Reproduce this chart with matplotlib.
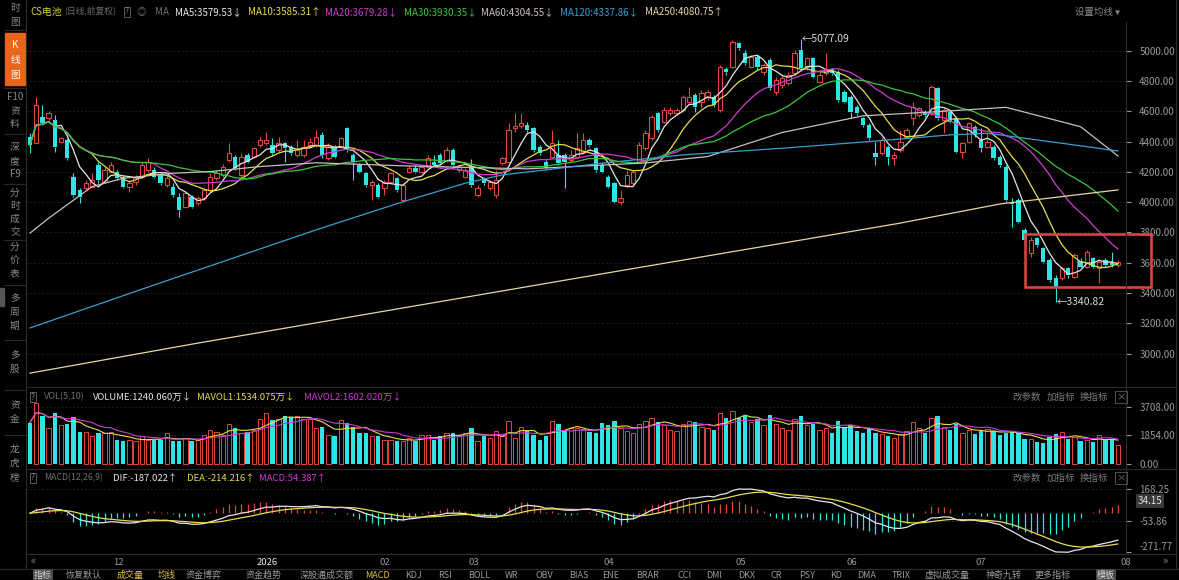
import matplotlib
matplotlib.use("Agg")
import matplotlib.pyplot as plt
from matplotlib.lines import Line2D
from matplotlib.patches import Rectangle
import numpy as np
import pandas as pd

plt.rcParams['font.family'] = ['Noto Sans CJK SC', 'DejaVu Sans']

W, H = 1179, 580

# daily candles (index points)
opens = [4433, 4393, 4565, 4554, 4543, 4400, 4411, 4169, 4081, 4092,
         4103, 4246, 4136, 4202, 4202, 4169, 4103, 4136, 4169, 4213,
         4213, 4180, 4114, 4103, 4037, 3971, 4037, 3993, 4026, 4081,
         4158, 4180, 4279, 4301, 4180, 4312, 4301, 4378, 4389, 4378,
         4345, 4389, 4367, 4312,
         4312, 4378, 4378, 4444, 4290, 4367, 4367, 4488, 4312, 4246,
         4191, 4114, 4114, 4092, 4136, 4158, 4015, 4202, 4224, 4202,
         4235, 4268, 4312, 4279, 4345, 4213, 4169, 4235, 4048, 4158,
         4092, 4048, 4257, 4268, 4488, 4503, 4510, 4488, 4367, 4268,
         4301, 4312, 4312, 4279, 4301, 4334, 4411, 4356,
         4246, 4169, 4125, 4004, 4114, 4125, 4268, 4356, 4422, 4587,
         4532, 4587, 4587, 4609, 4664, 4708, 4664, 4697, 4697, 4609,
         4877, 4895, 5049, 4983, 4895, 4961, 4862, 4939, 4730, 4774,
         4785, 4851, 5005, 4895, 4950, 4796, 4851, 4877, 4862, 4730,
         4697, 4631, 4554, 4510,
         4323, 4323, 4367, 4290, 4345, 4433, 4554, 4576, 4598, 4587,
         4752, 4543, 4598, 4554, 4334, 4400, 4499, 4411, 4367, 4367,
         4301, 4235, 3998, 4015, 3817, 3663, 3762, 3696, 3619, 3498,
         3498, 3564, 3509, 3614, 3575, 3630, 3564, 3619, 3608, 3586]
highs = [4455, 4697, 4642, 4604, 4576, 4433, 4422, 4191, 4092, 4147,
         4191, 4268, 4235, 4268, 4213, 4180, 4147, 4180, 4268, 4290,
         4235, 4202, 4180, 4125, 4059, 4070, 4048, 4041, 4092, 4191,
         4213, 4252, 4389, 4312, 4323, 4323, 4367, 4433, 4466, 4422,
         4433, 4400, 4378, 4411,
         4411, 4422, 4477, 4466, 4389, 4378, 4433, 4499, 4323, 4257,
         4202, 4147, 4125, 4147, 4202, 4169, 4125, 4246, 4246, 4246,
         4312, 4312, 4323, 4367, 4356, 4246, 4224, 4283, 4114, 4169,
         4147, 4213, 4301, 4521, 4587, 4587, 4532, 4499, 4378, 4279,
         4477, 4411, 4323, 4345, 4455, 4455, 4422, 4367,
         4268, 4180, 4136, 4081, 4213, 4213, 4400, 4477, 4576, 4598,
         4631, 4631, 4620, 4708, 4763, 4719, 4741, 4741, 4708, 4906,
         4895, 5071, 5060, 5005, 4972, 4972, 4917, 4950, 4829, 4840,
         4862, 5005, 5077.09, 4961, 4961, 4862, 4983, 4884, 4873, 4741,
         4708, 4642, 4565, 4521,
         4400, 4433, 4378, 4334, 4477, 4488, 4664, 4631, 4609, 4774,
         4763, 4620, 4609, 4565, 4400, 4532, 4510, 4488, 4455, 4378,
         4312, 4246, 4026, 4026, 3828, 3773, 3773, 3707, 3630, 3520,
         3575, 3575, 3663, 3630, 3685, 3641, 3619, 3630, 3674, 3619]
lows = [4323, 4389, 4510, 4543, 4334, 4389, 4279, 4037, 3993, 4081,
        4092, 4125, 4125, 4191, 4147, 4092, 4070, 4114, 4158, 4202,
        4158, 4114, 4103, 4037, 3905, 3960, 3960, 3982, 4015, 4070,
        4147, 4169, 4268, 4213, 4164, 4257, 4290, 4367, 4378, 4312,
        4334, 4268, 4312, 4301,
        4301, 4367, 4367, 4290, 4279, 4290, 4356, 4334, 4147, 4191,
        4103, 4015, 4026, 4048, 4125, 4070, 4004, 4191, 4191, 4191,
        4224, 4235, 4246, 4268, 4235, 4202, 4158, 4103, 4037, 4114,
        4081, 4026, 4246, 4257, 4466, 4488, 4466, 4334, 4312, 4213,
        4290, 4246, 4092, 4268, 4290, 4323, 4367, 4202,
        4191, 4092, 3993, 3982, 4103, 4114, 4257, 4345, 4411, 4466,
        4521, 4576, 4576, 4598, 4653, 4598, 4620, 4675, 4631, 4598,
        4840, 4884, 5005, 4906, 4884, 4873, 4840, 4741, 4708, 4752,
        4774, 4840, 4873, 4873, 4818, 4785, 4840, 4840, 4664, 4653,
        4554, 4576, 4499, 4411,
        4246, 4312, 4246, 4246, 4334, 4422, 4510, 4565, 4565, 4576,
        4543, 4455, 4521, 4323, 4290, 4389, 4433, 4334, 4356, 4279,
        4235, 4004, 3839, 3861, 3696, 3641, 3707, 3597, 3476, 3340.82,
        3487, 3498, 3498, 3564, 3564, 3564, 3464, 3575, 3575, 3570]
closes = [4378, 4642, 4521, 4587, 4367, 4422, 4290, 4048, 4037, 4125,
          4147, 4147, 4213, 4246, 4158, 4103, 4125, 4169, 4246, 4268,
          4169, 4125, 4158, 4048, 3949, 4059, 3971, 4026, 4081, 4169,
          4191, 4235, 4323, 4224, 4301, 4268, 4356, 4411, 4411, 4323,
          4389, 4356, 4323, 4345,
          4367, 4400, 4433, 4312, 4367, 4301, 4422, 4345, 4268, 4202,
          4114, 4136, 4037, 4136, 4191, 4081, 4114, 4224, 4202, 4235,
          4290, 4246, 4257, 4345, 4246, 4235, 4213, 4114, 4092, 4125,
          4136, 4147, 4290, 4477, 4503, 4521, 4477, 4345, 4323, 4224,
          4389, 4257, 4268, 4312, 4356, 4411, 4378, 4213,
          4202, 4103, 4004, 4026, 4180, 4202, 4378, 4455, 4565, 4477,
          4609, 4609, 4609, 4697, 4697, 4631, 4719, 4730, 4642, 4895,
          4856, 5060, 5016, 4917, 4961, 4895, 4906, 4752, 4807, 4818,
          4840, 4983, 4884, 4950, 4829, 4840, 4873, 4851, 4675, 4664,
          4598, 4587, 4510, 4422,
          4301, 4411, 4301, 4312, 4400, 4477, 4631, 4620, 4576, 4763,
          4554, 4609, 4532, 4334, 4389, 4521, 4444, 4356, 4400, 4290,
          4246, 4015, 3985, 3872, 3751, 3751, 3718, 3608, 3487, 3443,
          3564, 3520, 3652, 3575, 3674, 3575, 3608, 3586, 3586, 3608]
# volume in 万
volumes = [2675, 3971, 3135, 2300, 3281, 2508, 2613, 3031, 2090, 2048,
           1777, 1986, 1986, 2090, 1568, 1463, 1568, 1463, 1777, 1568,
           1568, 1568, 1986, 1463, 1463, 1672, 1463, 1568, 1881, 2195,
           2090, 1881, 2613, 2299, 1986, 2090, 2195, 2926, 3302, 2822,
           2926, 3093, 3031, 3135, 2926, 2884, 2299, 2404, 1881, 1777,
           2822, 2675, 2362, 1986, 1986, 1777, 1777, 1568, 1568, 1463,
           1463, 1672, 1505, 1839, 1881, 1568, 1777, 1986, 1986, 1881,
           1986, 2299, 1505, 1777, 1672, 2132, 1777, 2759, 1672, 2404,
           2132, 1839, 1568, 1777, 2759, 2550, 2195, 2299, 2299, 2257,
           2048, 1986,
           2650, 2500, 2750, 2300, 2100, 2000, 2600, 2800, 3000, 2700,
           2500, 2200, 2100, 2600, 2800, 2700, 2400, 2300, 2200, 3300,
           3000, 3400, 3000, 3100, 2700, 2900, 2500, 3200, 2600, 2300,
           2200, 2900, 3100, 2500, 2600, 2200, 2300, 2000, 2800, 2400,
           2500, 2100, 2000, 2300, 2000, 1900, 1800, 1700, 1900, 2100,
           2700, 2300, 2000, 3000, 3100, 2400, 2200, 2600, 2000, 2200,
           1950,
           2100, 2260, 2154, 1840, 1990, 2053, 1990, 1633, 1633, 1425,
           1362, 1740, 1903, 2053, 1633, 1740, 1488, 1528, 1425, 1840,
           1528, 1633, 1240]

# long moving averages (candle index -> value)
ma60_idx = [0, 3, 10, 15, 23, 29, 37, 46, 60, 80, 99, 109, 121, 134, 145, 157, 169, 175]
ma60_val = [3796, 3894, 4103, 4158, 4191, 4202, 4235, 4260, 4240, 4220, 4259, 4301,
            4460, 4570, 4595, 4626, 4498, 4305]
ma120_idx = [0, 19, 46, 60, 70, 76, 92, 105, 121, 135, 148, 154, 164, 175]
ma120_val = [3170, 3440, 3817, 4003, 4125, 4180, 4257, 4312, 4356, 4400, 4444, 4455,
             4400, 4338]
ma250_idx = [0, 27, 60, 92, 124, 140, 156, 175]
ma250_val = [2872, 3070, 3302, 3527, 3750, 3862, 3988, 4081]

month_pos = [14.2, 38.1, 57.1, 71.4, 93.1, 114.4, 132.2, 153.0, 176.3]
month_labels = ['12', '2026', '02', '03', '04', '05', '06', '07', '08']
price_ticks = [3000, 3200, 3400, 3600, 3800, 4000, 4200, 4400, 4600, 4800, 5000]
vol_ticks = [0, 1854, 3708]
macd_ticks = [168.25, -53.86, -271.77]

RED = '#e2463e'
CYAN = '#2fe4e4'
GRID = '#1e1e1e'
EDGE = '#2c2c2c'
GRAY = '#8c8c8c'
MA_COL = {5: '#e6e6e6', 10: '#e8dc50', 20: '#d03cd0', 30: '#3cc43c',
          60: '#c8bfbf', 120: '#3a9fd0', 250: '#e6d8a0'}
HS = 7.0  # header font size

fig = plt.figure(figsize=(W / 100, H / 100), dpi=100, facecolor='black')


def px_axes(x0, y0, x1, y1):
    ax = fig.add_axes([x0 / W, 1 - y1 / H, (x1 - x0) / W, (y1 - y0) / H])
    ax.set_facecolor('black')
    for s in ax.spines.values():
        s.set_visible(False)
    ax.tick_params(left=False, bottom=False, labelbottom=False, right=False,
                   labelright=True, labelleft=False, colors='#9a9a9a',
                   labelsize=7, pad=6)
    ax.yaxis.tick_right()
    return ax


def ftext(x, y, s, color=GRAY, size=HS, ha='left', **kw):
    return fig.text(x / W, 1 - y / H, s, color=color, fontsize=size, ha=ha,
                    va='center', **kw)


def fline(x0, y0, x1, y1, color=EDGE, lw=0.8):
    fig.add_artist(Line2D([x0 / W, x1 / W], [1 - y0 / H, 1 - y1 / H],
                          color=color, lw=lw))


o = np.array(opens, float)
h = np.array(highs, float)
l = np.array(lows, float)
c = np.array(closes, float)
v = np.array(volumes, float)
x = np.arange(len(c))
up = c >= o
top = np.maximum(o, c)
bot = np.minimum(o, c)
cols = np.where(up, RED, CYAN)
xl = (-0.64, 176.3)

# ---------------- price panel ----------------
ax = px_axes(26, 22, 1126, 386)
ax.set_xlim(*xl)
ax.set_ylim(2787, 5189)
ax.set_yticks(price_ticks)
ax.set_yticklabels(['%.2f' % t for t in price_ticks])
for t in price_ticks:
    ax.axhline(t, color=GRID, lw=0.7, ls=(0, (2, 2)), zorder=0)

ax.vlines(x, top, h, colors=cols, lw=0.8, zorder=2)
ax.vlines(x, l, bot, colors=cols, lw=0.8, zorder=2)
body = np.maximum(top - bot, 4)
ax.bar(x[up], body[up], bottom=bot[up], width=0.7, facecolor='black',
       edgecolor=RED, lw=0.8, zorder=2)
ax.bar(x[~up], body[~up], bottom=bot[~up], width=0.7, color=CYAN, lw=0, zorder=2)

cs = pd.Series(c)
for n in (5, 10, 20, 30):
    ax.plot(x, cs.rolling(n, min_periods=1).mean(), color=MA_COL[n], lw=0.9, zorder=3)
ax.plot(ma60_idx, ma60_val, color=MA_COL[60], lw=0.9, zorder=3)
ax.plot(ma120_idx, ma120_val, color=MA_COL[120], lw=0.9, zorder=3)
ax.plot(ma250_idx, ma250_val, color=MA_COL[250], lw=0.9, zorder=3)

ih, il = int(np.argmax(h)), int(np.argmin(l))
ax.text(ih + 0.2, h[ih], '←%.2f' % h[ih], color='#d8d8d8', fontsize=7.5,
        va='center', ha='left')
ax.text(il + 0.2, l[il], '←%.2f' % l[il], color='#d8d8d8', fontsize=7.5,
        va='center', ha='left')
ax.add_patch(Rectangle((160.0, 3442), 20.3, 348, fill=False, edgecolor='#d84444',
                       lw=1.9, clip_on=False, zorder=5))

# ---------------- volume panel ----------------
axv = px_axes(26, 388, 1126, 468)
axv.set_xlim(*xl)
axv.set_ylim(-280, 4924)
axv.set_yticks(vol_ticks)
axv.set_yticklabels(['%.2f' % t for t in vol_ticks])
for t in vol_ticks[1:]:
    axv.axhline(t, color=GRID, lw=0.7, ls=(0, (2, 2)), zorder=0)
axv.bar(x[up], v[up], width=0.7, facecolor='black', edgecolor=RED, lw=0.7)
axv.bar(x[~up], v[~up], width=0.7, color=CYAN, lw=0)
vs = pd.Series(v)
axv.plot(x, vs.rolling(5, min_periods=1).mean(), color=MA_COL[10], lw=0.8)
axv.plot(x, vs.rolling(10, min_periods=1).mean(), color=MA_COL[20], lw=0.8)

# ---------------- MACD panel ----------------
ema12 = cs.ewm(span=12, adjust=False).mean()
ema26 = cs.ewm(span=26, adjust=False).mean()
dif = ema12 - ema26
dea = dif.ewm(span=9, adjust=False).mean()
hist = 2 * (dif - dea)

axm = px_axes(26, 470, 1126, 553)
axm.set_xlim(*xl)
axm.set_ylim(-276, 300)
axm.set_yticks(macd_ticks)
axm.set_yticklabels(['%.2f' % t for t in macd_ticks])
axm.get_yticklabels()[2].set_va('bottom')
for t in macd_ticks[:2]:
    axm.axhline(t, color=GRID, lw=0.7, ls=(0, (2, 2)), zorder=0)
axm.vlines(x, 0, hist, colors=np.where(hist >= 0, RED, CYAN), lw=0.9)
axm.plot(x, dif, color=MA_COL[5], lw=0.9)
axm.plot(x, dea, color=MA_COL[10], lw=0.9)
axm.set_xticks(month_pos)
axm.set_xticklabels(month_labels)
axm.tick_params(axis='x', labelbottom=True, pad=0, labelsize=6.8)
for lab in axm.get_xticklabels():
    lab.set_color('#e8e8e8' if lab.get_text() == '2026' else '#9a9a9a')
ftext(1150, 500.7, '34.15', color='#e0e0e0', size=7, ha='center',
      bbox=dict(facecolor='#3a3a3a', edgecolor='none', pad=1.5))

# ---------------- frame lines ----------------
fline(26, 0, 26, 568)
fline(1126, 22, 1126, 553)
fline(26, 386.5, 1176, 386.5)
fline(26, 469, 1176, 469)
fline(26, 553.5, 1176, 553.5)
fline(0, 568.5, 1179, 568.5)
fline(1176, 0, 1176, 568)

# ---------------- header texts ----------------
ftext(30, 12, 'CS电池', '#e0d24a')
ftext(64, 12, '(日线,前复权)', '#6e6e6e', size=6.3)
ftext(127, 12, '?', '#8a8a8a', size=6, ha='center',
      bbox=dict(facecolor='none', edgecolor='#6a6a6a', pad=0.6, lw=0.6))
ftext(141, 12, '◎', '#6a6a6a', ha='center')
ftext(155, 12, 'MA', '#6e6e6e')
ma_head = [(175, 'MA5:3579.53↓', 5), (248, 'MA10:3585.31↑', 10),
           (325, 'MA20:3679.28↓', 20), (404, 'MA30:3930.35↓', 30),
           (481, 'MA60:4304.55↓', 60), (560, 'MA120:4337.86↓', 120),
           (645, 'MA250:4080.75↑', 250)]
for px, s, n in ma_head:
    ftext(px, 12, s, MA_COL[n])
ftext(1075, 12, '设置均线 ▾', '#8a8a8a', size=6.8)

ftext(33, 397, '?', '#8a8a8a', size=6, ha='center',
      bbox=dict(facecolor='none', edgecolor='#6a6a6a', pad=0.6, lw=0.6))
ftext(44, 397, 'VOL(5,10)', '#6e6e6e', size=6.6)
ftext(93, 397, 'VOLUME:1240.060万↓', '#e6e6e6', size=6.8)
ftext(197, 397, 'MAVOL1:1534.075万↓', MA_COL[10], size=6.8)
ftext(304, 397, 'MAVOL2:1602.020万↓', MA_COL[20], size=6.8)

ftext(33, 478, '?', '#8a8a8a', size=6, ha='center',
      bbox=dict(facecolor='none', edgecolor='#6a6a6a', pad=0.6, lw=0.6))
ftext(44, 478, 'MACD(12,26,9)', '#6e6e6e', size=6.3)
ftext(113, 478, 'DIF:-187.022↑', '#e6e6e6', size=6.8)
ftext(187, 478, 'DEA:-214.216↑', MA_COL[10], size=6.8)
ftext(259, 478, 'MACD:54.387↑', MA_COL[20], size=6.8)

for yy in (397, 478):
    ftext(1012, yy, '改参数', '#7a7a7a', size=6.8)
    ftext(1047, yy, '加指标', '#7a7a7a', size=6.8)
    ftext(1080, yy, '换指标', '#7a7a7a', size=6.8)
    ftext(1121, yy, '×', '#7a7a7a', size=6.8, ha='center',
          bbox=dict(facecolor='none', edgecolor='#5a5a5a', pad=0.8, lw=0.6))

# ---------------- left sidebar ----------------
fig.add_artist(Rectangle((5 / W, 1 - 85 / H), 20 / W, 52 / H, color='#e8651c',
                         transform=fig.transFigure))
side_labels = ['时', '图', 'K', '线', '图', 'F10', '资', '料', '深', '度', 'F9',
               '分', '时', '成', '交', '分', '价', '表', '多', '周', '期',
               '多', '股', '资', '金', '龙', '虎', '榜']
side_y = [8, 22, 45, 60, 75, 97, 111, 124, 147, 161, 174, 193, 206, 219, 232,
          247, 261, 274, 298, 312, 326, 355, 369, 405, 419, 449, 463, 478]
for i, (s, yy) in enumerate(zip(side_labels, side_y)):
    col = '#ffffff' if 2 <= i <= 4 else '#8a8a8a'
    ftext(15, yy, s, col, size=7, ha='center')
for yy in (30, 88, 134, 184, 240, 285, 340, 390, 435):
    fline(4, yy, 26, yy, color='#262626')
fig.add_artist(Rectangle((0, 1 - 306 / H), 4 / W, 18 / H, color='#555555',
                         transform=fig.transFigure))

# ---------------- date row / toolbar ----------------
ftext(33, 561, '«', '#8a8a8a', size=8, ha='center')
ftext(1165, 561, '»', '#8a8a8a', size=8, ha='center')

tools = [(43, '指标'), (84, '恢复默认'), (130, '成交量'), (167, '均线'),
         (204, '资金博弈'), (264, '资金趋势'), (327, '深股通成交额'),
         (377, 'MACD'), (414, 'KDJ'), (445, 'RSI'), (479, 'BOLL'),
         (512, 'WR'), (544, 'OBV'), (579, 'BIAS'), (611, 'ENE'),
         (648, 'BRAR'), (685, 'CCI'), (714, 'DMI'), (747, 'DKX'),
         (776, 'CR'), (807, 'PSY'), (836, 'KD'), (867, 'DMA'), (901, 'TRIX'),
         (947, '虚拟成交量'), (1004, '神奇九转'), (1053, '更多指标'),
         (1106, '模板')]
for px, s in tools:
    col = '#e0c040' if s in ('成交量', '均线', 'MACD') else '#9a9a9a'
    kw = {}
    if s in ('指标', '模板'):
        col = '#d8d8d8'
        kw['bbox'] = dict(facecolor='#4a4a4a', edgecolor='none', pad=1.0)
    ftext(px, 575, s, col, size=6.5, ha='center', **kw)

fig.savefig('out.png', dpi=100, facecolor='black')
